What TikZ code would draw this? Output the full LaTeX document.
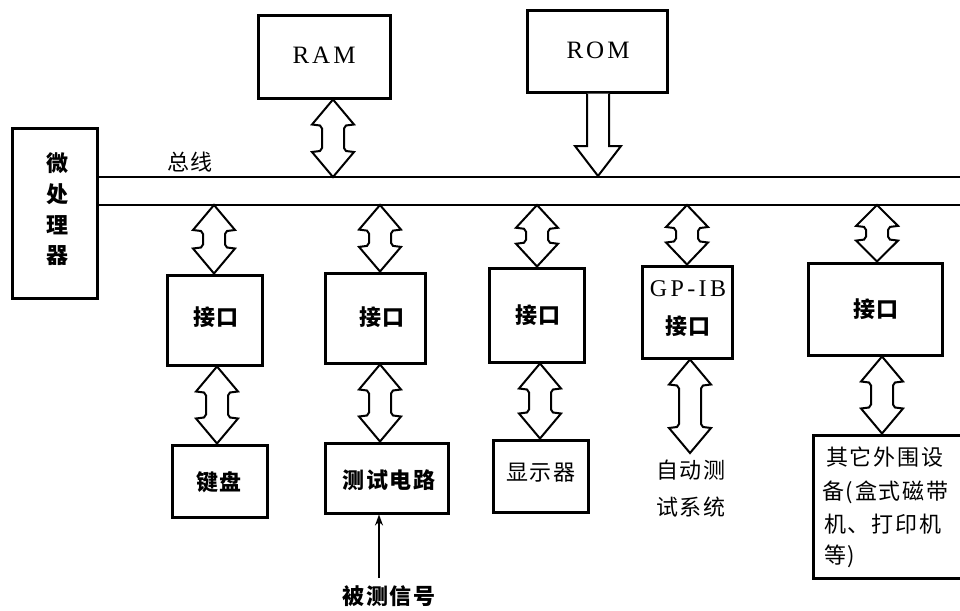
\documentclass[tikz,border=0pt]{standalone}
\usepackage{fontspec}
\setmainfont{Liberation Serif}
\newfontfamily\cjk{Noto Sans CJK SC}
\usetikzlibrary{calc,arrows.meta}
\newcommand\dblarr[2]{%
  \draw[arrline] let \p1=#1, \p2=#2, \n1={min(25,0.37*(\y1-\y2))*1pt} in
  (\x1,\y1) -- (\x1-21pt,\y1-\n1) -- (\x1-13pt,\y1-\n1-1pt) -- (\x1-11pt,\y1-\n1-4pt)
  -- (\x1-11pt,\y2+\n1+4pt) -- (\x1-13pt,\y2+\n1+1pt) -- (\x1-21pt,\y2+\n1) -- (\x1,\y2)
  -- (\x1+21pt,\y2+\n1) -- (\x1+13pt,\y2+\n1+1pt) -- (\x1+11pt,\y2+\n1+4pt)
  -- (\x1+11pt,\y1-\n1-4pt) -- (\x1+13pt,\y1-\n1-1pt) -- (\x1+21pt,\y1-\n1) -- cycle;}
\tikzset{
  box/.style={draw, line width=3pt, inner sep=0pt},
  arrline/.style={draw, fill=white, line width=2pt, line join=miter},
  busline/.style={line width=2.2pt},
  zh/.style={font=\cjk\addfontfeature{LetterSpace=8}\fontsize{22}{24}\selectfont, inner sep=0pt},
  zhb/.style={font=\cjk\bfseries\addfontfeature{LetterSpace=8}\fontsize{22}{24}\selectfont, inner sep=0pt},
  lat/.style={font=\addfontfeature{LetterSpace=12}\fontsize{25}{27}\selectfont, inner sep=0pt}
}
\begin{document}
\begin{tikzpicture}[x=1pt,y=-1pt]
\useasboundingbox (0,0) rectangle (960,610);
% boxes
\node[box, minimum width=85pt, minimum height=170pt] (cpu) at (54.5,213) {};
\node[box, minimum width=132pt, minimum height=82pt] (ram) at (324,57) {};
\node[box, minimum width=140pt, minimum height=81pt] (rom) at (597,51.5) {};
\node[box, minimum width=95pt, minimum height=90pt] (if1) at (214.5,320) {};
\node[box, minimum width=100pt, minimum height=90pt] (if2) at (375,318) {};
\node[box, minimum width=95pt, minimum height=94pt] (if3) at (536.5,315) {};
\node[box, minimum width=90pt, minimum height=92pt] (gp) at (687,312) {};
\node[box, minimum width=134pt, minimum height=92pt] (if5) at (875,309) {};
\node[box, minimum width=95pt, minimum height=72pt] (kb) at (219.5,481) {};
\node[box, minimum width=123pt, minimum height=70pt] (tc) at (386.5,478) {};
\node[box, minimum width=95pt, minimum height=72pt] (disp) at (540.5,476) {};
\node[box, minimum width=155pt, minimum height=143pt] (oth) at (890.5,506.5) {};
% texts
\node[zhb] at (57,163) {微};
\node[zhb] at (57,194) {处};
\node[zhb] at (57,225) {理};
\node[zhb] at (57,256) {器};
\node[lat] at (324,55) {RAM};
\node[lat] at (598,50) {ROM};
\node[zh] at (190,162) {总线};
\node[zhb] at (216,317) {接口};
\node[zhb] at (382,317) {接口};
\node[zhb] at (538,315) {接口};
\node[lat, font=\addfontfeature{LetterSpace=14}\fontsize{24}{26}\selectfont] at (688,289) {GP-IB};
\node[zhb] at (688,326) {接口};
\node[zhb] at (876,309) {接口};
\node[zhb] at (219,482) {键盘};
\node[zhb] at (389,480) {测试电路};
\node[zh] at (541,473) {显示器};
\node[zh] at (691,470) {自动测};
\node[zh] at (691,507) {试系统};
\node[zh, anchor=west] at (826,457) {其它外围设};
\node[zh, anchor=west] at (822,492) {备(盒式磁带};
\node[zh, anchor=west] at (824,524) {机、打印机};
\node[zh, anchor=west] at (824,556) {等)};
\node[zhb] (sig) at (389,596) {被测信号};
% bus
\coordinate (bt) at (cpu.east |- 0,177);
\coordinate (bb) at (cpu.east |- 0,205);
\draw[busline] (bt) -- (965,177);
\draw[busline] (bb) -- (965,205);
% bus attach points
\coordinate (pram) at (333,177);
\coordinate (prom) at (598,176);
\coordinate (p1) at (214,205);
\coordinate (p2) at (380,205);
\coordinate (p3) at (537,205);
\coordinate (p4) at (687,205);
\coordinate (p5) at (877,205);
\coordinate (q1) at (217,0);
\coordinate (q2) at (380,0);
\coordinate (q3) at (540,0);
\coordinate (q5) at (882,0);
\coordinate (atsTip) at (690,453);
% arrows
\dblarr{(pram |- ram.south)}{(pram)}
\draw[arrline] let \p1=(prom |- rom.south), \p2=(prom) in
  (\x1-11pt,\y1) -- (\x1-11pt,\y2+30pt) -- (\x1-23pt,\y2+30pt) -- (\x1,\y2)
  -- (\x1+23pt,\y2+30pt) -- (\x1+11pt,\y2+30pt) -- (\x1+11pt,\y1);
\dblarr{(p1)}{(p1 |- if1.north)}
\dblarr{(p2)}{(p2 |- if2.north)}
\dblarr{(p3)}{(p3 |- if3.north)}
\dblarr{(p4)}{(p4 |- gp.north)}
\dblarr{(p5)}{(p5 |- if5.north)}
\dblarr{(q1 |- if1.south)}{(q1 |- kb.north)}
\dblarr{(q2 |- if2.south)}{(q2 |- tc.north)}
\dblarr{(q3 |- if3.south)}{(q3 |- disp.north)}
\dblarr{(atsTip |- gp.south)}{(atsTip)}
\dblarr{(q5 |- if5.south)}{(q5 |- oth.north)}
\coordinate (sigtop) at (379,578);
\draw[line width=1.6pt, -{Stealth[length=11pt,width=8pt]}] (sigtop) -- (sigtop |- tc.south);
\end{tikzpicture}
\end{document}
